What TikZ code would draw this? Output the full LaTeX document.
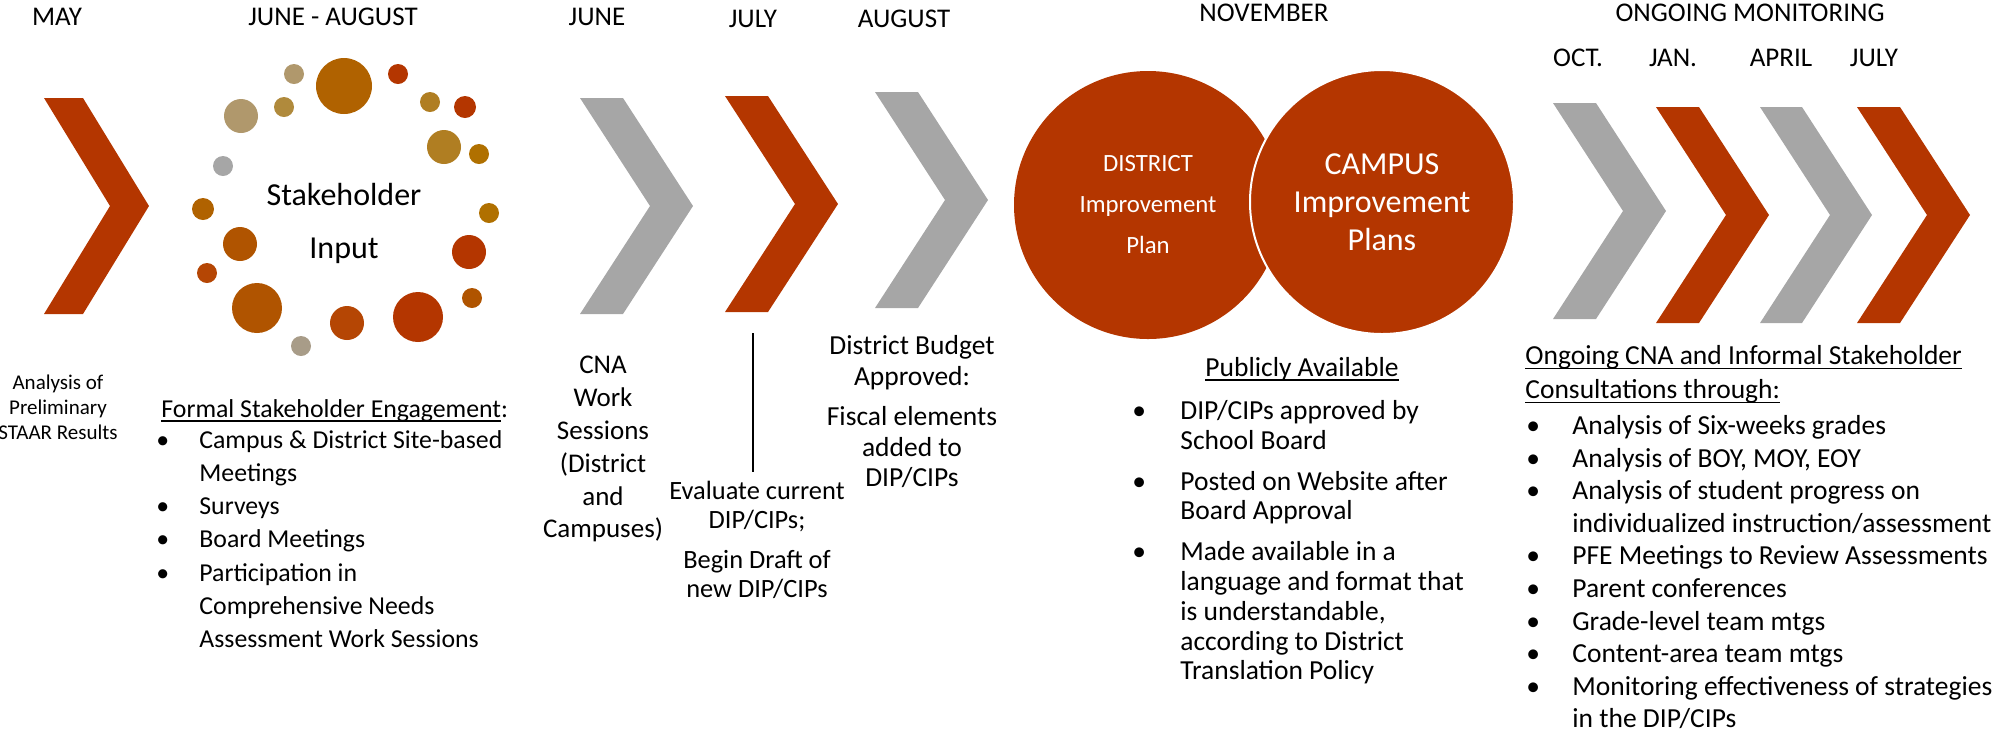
\documentclass[tikz,border=0pt]{standalone}
\usepackage{fontspec}
\setmainfont{Carlito}

% Colours
\definecolor{rust}{RGB}{180,54,0}
\definecolor{chevgray}{RGB}{166,166,166}
\definecolor{dtan}{RGB}{176,152,108}
\definecolor{taupe}{RGB}{168,156,136}
\definecolor{goldA}{RGB}{176,138,60}
\definecolor{goldB}{RGB}{176,126,34}
\definecolor{ochre}{RGB}{176,112,0}
\definecolor{amber}{RGB}{176,98,0}
\definecolor{burnt}{RGB}{176,84,0}
\definecolor{brick}{RGB}{181,70,4}

\newcommand{\bul}[1]{\makebox[#1][l]{\textbullet}}
\newsavebox{\ulbox}
\newcommand{\uln}[1]{\sbox{\ulbox}{#1}\rlap{\rule[-2.4pt]{\wd\ulbox}{0.8pt}}\usebox{\ulbox}}

\tikzset{
  month/.style={anchor=base, inner sep=0pt, font=\fontsize{13.5}{16}\selectfont},
  blurb/.style={anchor=north, align=center, inner sep=0pt},
  points/.style={anchor=north west, align=left, inner sep=0pt},
  plan/.style={circle, fill=rust, text=white, align=center, inner sep=0pt},
}

\begin{document}
\begin{tikzpicture}[x=0.5pt, y=-0.5pt]
    \useasboundingbox (0,0) rectangle (1999,736);

    % Chevrons
    \foreach \x/\y/\w/\d/\c in {44/98/39/66/rust, 580/98/43/70/chevgray, 725/96/43/70/rust, 875/92/43/70/chevgray, 1553/103/43/70/chevgray, 1656/107/43/70/rust, 1760/107/42/70/chevgray, 1857/107/43/70/rust} {
        \fill[\c] (\x,\y) -- ++(\w,0) -- ++(\d,108) -- ++(-\d,108) -- ++(-\w,0) -- ++(\d,-108) -- cycle;
    }

    % Stakeholder dots
    \foreach \x/\y/\r/\c in {294/74/10/dtan, 344/86/28/amber, 398/74/10/rust, 241/116/17/dtan, 284/107/10/goldA,
        430/102/10/goldB, 465/107/11/rust, 444/147/17/goldB, 479/154/10/ochre, 223/166/10/chevgray,
        203/209/11/amber, 489/213/10/ochre, 240/244/17/burnt, 469/252/17/rust, 207/273/10/brick,
        257/308/25/burnt, 472/298/10/burnt, 347/323/17/brick, 418/317/25/rust, 301/346/10/taupe} {
        \fill[\c] (\x,\y) circle[radius=\r*0.5pt];
    }
    \node[align=center, font=\fontsize{16}{26.5}\selectfont] (input) at (344,223) {Stakeholder\\Input};

    % Month labels
    \node[month] (may) at (57,25) {MAY};
    \node[month] (summer) at (333,25) {JUNE - AUGUST};
    \node[month] (june) at (597,25) {JUNE};
    \node[month] (july) at (753,27) {JULY};
    \node[month] (aug) at (904,27) {AUGUST};
    \node[month] (nov) at (1264,21) {NOVEMBER};
    \node[month] (ongoing) at (1750,21) {ONGOING MONITORING};
    \node[month] (oct) at (1578,66) {OCT.};
    \node[month] (jan) at (1673,66) {JAN.};
    \node[month] (apr) at (1781,66) {APRIL};
    \node[month] (julyb) at (1874,66) {JULY};

    % Improvement plans
    \node[plan, minimum size=134pt, font=\fontsize{12.4}{20.5}\selectfont] (dip) at (1148,205) {DISTRICT\\Improvement\\Plan};
    \node[plan, minimum size=132pt, draw=white, line width=1pt, font=\fontsize{16}{19}\selectfont] (cip) at (1382,202) {CAMPUS\\Improvement\\Plans};

    % Texts below
    \node[blurb, font=\fontsize{10.5}{12.5}\selectfont] (staar) at (58,375) {Analysis of\\Preliminary\\STAAR Results};

    \node[anchor=base west, inner sep=0pt, font=\fontsize{12.9}{16}\selectfont] (formal) at (161,417) {\uln{Formal Stakeholder Engagement}:};
    \node[points, font=\fontsize{12.9}{16.6}\selectfont] (formallist) at (156,430) {%
        \bul{21.5pt}Campus \& District Site-based\\
        \hspace*{21.5pt}Meetings\\
        \bul{21.5pt}Surveys\\
        \bul{21.5pt}Board Meetings\\
        \bul{21.5pt}Participation in\\
        \hspace*{21.5pt}Comprehensive Needs\\
        \hspace*{21.5pt}Assessment Work Sessions};

    \node[blurb, font=\fontsize{13.5}{16.4}\selectfont] (cna) at (603,356) {CNA\\Work\\Sessions\\(District\\and\\Campuses)};

    \node[blurb, inner ysep=4.5pt, font=\fontsize{13.2}{14.5}\selectfont] (eval) at (757,472) {Evaluate current\\DIP/CIPs;\\[5.5pt]Begin Draft of\\new DIP/CIPs};
    \coordinate (cut) at (753,333);
    \draw[line width=0.75pt] (cut) -- (cut |- eval.north);

    \node[blurb, font=\fontsize{13.75}{15.25}\selectfont] (budget) at (912,335) {District Budget\\Approved:\\[5pt]Fiscal elements\\added to\\DIP/CIPs};

    \node[month, font=\fontsize{13.75}{16}\selectfont] (pubhead) at (1302,376) {\uln{Publicly Available}};
    \node[points, font=\fontsize{13.75}{14.9}\selectfont] (publist) at (1132,400) {%
        \bul{24pt}DIP/CIPs approved by\\
        \hspace*{24pt}School Board\\[5.5pt]
        \bul{24pt}Posted on Website after\\
        \hspace*{24pt}Board Approval\\[5.5pt]
        \bul{24pt}Made available in a\\
        \hspace*{24pt}language and format that\\
        \hspace*{24pt}is understandable,\\
        \hspace*{24pt}according to District\\
        \hspace*{24pt}Translation Policy};

    \node[points, font=\fontsize{13.75}{17}\selectfont] (onghead) at (1525,345) {%
        \uln{Ongoing CNA and Informal Stakeholder}\\
        \uln{Consultations through:}};
    \node[points, font=\fontsize{13.75}{16.3}\selectfont] (onglist) at (1526,415) {%
        \bul{23pt}Analysis of Six-weeks grades\\
        \bul{23pt}Analysis of BOY, MOY, EOY\\
        \bul{23pt}Analysis of student progress on\\
        \hspace*{23pt}individualized instruction/assessment\\
        \bul{23pt}PFE Meetings to Review Assessments\\
        \bul{23pt}Parent conferences\\
        \bul{23pt}Grade-level team mtgs\\
        \bul{23pt}Content-area team mtgs\\
        \bul{23pt}Monitoring effectiveness of strategies\\
        \hspace*{23pt}in the DIP/CIPs};
\end{tikzpicture}
\end{document}
